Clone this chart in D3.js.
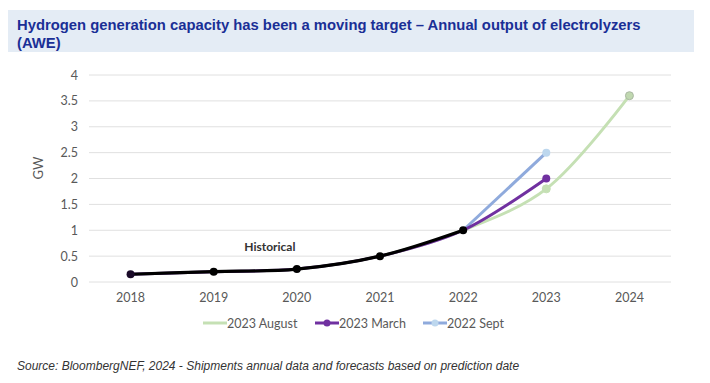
<!DOCTYPE html>
<html><head><meta charset="utf-8">
<script src="https://cdn.jsdelivr.net/npm/d3@7"></script>
<style>
html,body{margin:0;padding:0;background:#fff;}
svg{display:block;}
</style></head>
<body>
<svg id="chart" width="710" height="383"></svg>
<script>
const years = ["2018","2019","2020","2021","2022","2023","2024"];
const yTicks = [0,0.5,1,1.5,2,2.5,3,3.5,4];
const historical = [0.15,0.2,0.25,0.5,1.0,null,null];
const aug2023 = [0.15,0.2,0.25,0.5,1.0,1.8,3.6];
const mar2023 = [0.15,0.2,0.25,0.5,1.0,2.0,null];
const sep2022 = [null,null,null,null,1.0,2.5,null];
const seriesNames = ["2023 August","2023 March","2022 Sept"];

const svg = d3.select("#chart");
const axisFont = "Lato, 'Open Sans', sans-serif";

// header
svg.append("rect").attr("x",8).attr("y",10).attr("width",686).attr("height",42).attr("fill","#e4ecf5");
const title = svg.append("text").attr("fill","#1a2f96").attr("font-family","'Liberation Sans', Arial, sans-serif")
  .attr("font-weight","bold").attr("font-size",14.8);
title.append("tspan").attr("x",17).attr("y",30).text("Hydrogen generation capacity has been a moving target \u2013 Annual output of electrolyzers");
title.append("tspan").attr("x",17).attr("y",48).text("(AWE)");

const x = d3.scaleBand().domain(years).range([89,671]);
const y = d3.scaleLinear().domain([0,4]).range([282,75]);
const cx = d => x(d) + x.bandwidth()/2;

// grid
svg.append("g").selectAll("line").data(yTicks).join("line")
  .attr("x1",89).attr("x2",671).attr("y1",d=>y(d)).attr("y2",d=>y(d))
  .attr("stroke","#e0e0e0").attr("stroke-width",1);

// y axis labels
const yAxis = svg.append("g").attr("transform","translate(84,0)")
  .call(d3.axisLeft(y).tickValues(yTicks).tickSize(0).tickPadding(6).tickFormat(d=>String(d)));
yAxis.select(".domain").remove();
yAxis.selectAll("text").attr("font-family",axisFont).attr("font-size",12.5).attr("fill","#595959");

svg.append("text").attr("transform","translate(43,168) rotate(-90)").attr("text-anchor","middle")
  .attr("font-family",axisFont).attr("font-size",13).attr("fill","#595959").text("GW");

// x axis labels
const xAxis = svg.append("g").attr("transform","translate(0,290)")
  .call(d3.axisBottom(x).tickSize(0).tickPadding(3));
xAxis.select(".domain").remove();
xAxis.selectAll("text").attr("font-family",axisFont).attr("font-size",12.5).attr("fill","#595959");

function pts(arr){ return years.map((yr,i)=>({yr, v:arr[i]})).filter(d=>d.v!==null); }

const lineSmooth = d3.line().x(d=>cx(d.yr)).y(d=>y(d.v)).curve(d3.curveCatmullRom.alpha(0.5));
const lineStraight = d3.line().x(d=>cx(d.yr)).y(d=>y(d.v));

const cAug = "#c5e0b4", cMar = "#7030a0", cSep = "#8faadc";

svg.append("path").datum(pts(aug2023)).attr("d",lineSmooth).attr("fill","none").attr("stroke",cAug).attr("stroke-width",3);
svg.append("path").datum(pts(sep2022)).attr("d",lineStraight).attr("fill","none").attr("stroke",cSep).attr("stroke-width",3);
svg.append("path").datum(pts(mar2023)).attr("d",lineSmooth).attr("fill","none").attr("stroke",cMar).attr("stroke-width",3);

// forecast markers
const augPts = pts(aug2023).filter(d=>d.yr>="2023");
svg.append("g").selectAll("circle").data(augPts).join("circle")
  .attr("cx",d=>cx(d.yr)).attr("cy",d=>y(d.v)).attr("r",4)
  .attr("fill",d=>d.yr==="2024"?"#c0d8b0":cAug).attr("stroke",d=>d.yr==="2024"?"#aab8a2":cAug).attr("stroke-width",1);
svg.append("g").selectAll("circle").data(pts(mar2023).filter(d=>d.yr==="2023")).join("circle")
  .attr("cx",d=>cx(d.yr)).attr("cy",d=>y(d.v)).attr("r",4).attr("fill",cMar);
svg.append("g").selectAll("circle").data(pts(sep2022).filter(d=>d.yr==="2023")).join("circle")
  .attr("cx",d=>cx(d.yr)).attr("cy",d=>y(d.v)).attr("r",4).attr("fill","#bdd7ee");

// historical
svg.append("path").datum(pts(historical)).attr("d",lineSmooth).attr("fill","none").attr("stroke","#000").attr("stroke-width",3.2);
svg.append("g").selectAll("circle").data(pts(historical)).join("circle")
  .attr("cx",d=>cx(d.yr)).attr("cy",d=>y(d.v)).attr("r",4).attr("fill",(d,i)=>i===0?"#1a0a28":"#000");

svg.append("text").attr("x",cx("2020")-27).attr("y",251).attr("text-anchor","middle")
  .attr("font-family",axisFont).attr("font-weight","bold").attr("font-size",12).attr("fill","#333").text("Historical");

// legend
const legendX = [203,315,423];
const legendColors = [cAug,cMar,cSep];
const leg = svg.append("g").selectAll("g").data(seriesNames).join("g")
  .attr("transform",(d,i)=>`translate(${legendX[i]},323)`);
leg.append("line").attr("x1",0).attr("x2",24).attr("y1",0).attr("y2",0)
  .attr("stroke",(d,i)=>legendColors[i]).attr("stroke-width",3);
leg.filter((d,i)=>i>0).append("circle").attr("cx",12).attr("cy",0).attr("r",3.5)
  .attr("fill",(d,i)=>i===0?cMar:"#bdd7ee");
leg.append("text").attr("x",24).attr("y",4.5).attr("font-family",axisFont).attr("font-size",12.5)
  .attr("fill","#595959").text(d=>d);

svg.append("text").attr("x",17).attr("y",370).attr("font-family","'Liberation Sans', Arial, sans-serif")
  .attr("font-style","italic").attr("font-size",12).attr("fill","#333")
  .text("Source: BloombergNEF, 2024 - Shipments annual data and forecasts based on prediction date");
</script>
</body></html>
